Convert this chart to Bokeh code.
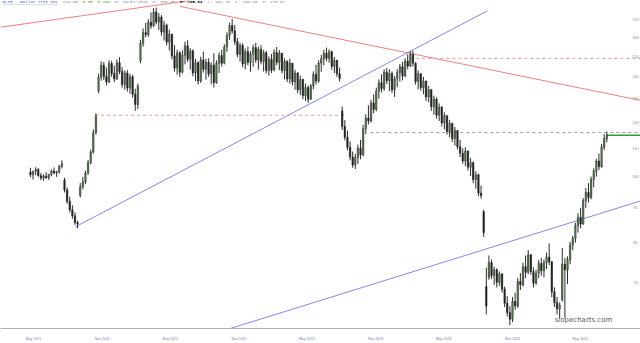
import pandas as pd
from bokeh.plotting import figure
from bokeh.models import Range1d, Label, FixedTicker, ColumnDataSource
from bokeh.embed import file_html
from bokeh.resources import INLINE

# ---------------- data (weekly candles) ----------------
first_week = "2021-04-23"

open_ = [101.5, 100.6, 101.8, 102.4, 100.3, 99.5, 100.2, 99.6, 100.7, 101.9,
         101.2, 101.6, 103.5, 98.8, 95.6, 92.0, 89.4, 87.6, 85.6, 93.8,
         96.6, 98.2, 101.2, 104.9, 108.6, 116.0, 133.5, 139.8, 145.6, 140.2,
         137.6, 146.4, 141.6, 139.0, 146.8, 142.5, 136.4, 141.8, 134.8, 140.0,
         132.0, 127.5, 148.0, 156.8, 162.5, 161.5, 168.4, 166.2, 174.2, 168.5,
         171.2, 162.8, 166.6, 157.4, 161.6, 150.2, 144.2, 151.8, 142.2, 150.6,
         155.4, 148.6, 152.8, 141.8, 146.8, 138.0, 148.2, 143.6, 147.0, 141.4,
         145.6, 137.2, 146.5, 150.4, 146.6, 154.8, 161.0, 166.4, 163.4, 157.6,
         151.0, 155.6, 146.2, 152.4, 147.0, 151.2, 154.5, 148.2, 153.6, 147.4,
         151.8, 143.0, 148.6, 143.2, 152.0, 147.0, 151.6, 143.0, 147.4, 139.0,
         146.6, 137.6, 141.8, 134.0, 138.8, 131.4, 135.0, 129.8, 135.8, 141.2,
         138.0, 146.6, 148.8, 151.6, 149.0, 152.4, 145.0, 148.0, 141.4, 124.8,
         118.4, 114.2, 110.4, 106.8, 104.0, 106.6, 110.0, 107.6, 117.6, 121.8,
         120.6, 128.2, 125.4, 133.4, 137.2, 134.6, 142.2, 138.2, 141.6, 134.0,
         139.0, 142.0, 144.8, 140.4, 147.6, 145.2, 151.0, 146.6, 137.8, 141.4,
         135.0, 138.0, 130.8, 134.0, 126.6, 129.8, 123.0, 126.4, 119.8, 122.8,
         116.4, 119.6, 113.6, 116.8, 110.6, 108.2, 105.4, 109.0, 103.2, 104.8,
         99.0, 100.6, 94.6, 88.8, 69.0, 71.2, 74.8, 71.6, 73.0, 70.0,
         72.0, 68.4, 65.2, 63.2, 61.8, 65.6, 64.6, 70.2, 69.4, 73.8,
         72.4, 76.8, 72.6, 69.8, 72.2, 74.6, 72.8, 74.8, 76.2, 75.0,
         67.8, 65.4, 64.0, 66.0, 74.4, 73.0, 75.6, 79.4, 81.2, 84.8,
         87.2, 85.2, 92.2, 94.8, 93.2, 99.0, 101.8, 105.4, 103.4, 110.4,
         113.6]

high = [103.0, 102.0, 103.2, 102.9, 101.2, 100.8, 101.5, 100.9, 102.4, 103.1,
        102.0, 104.0, 105.6, 99.6, 96.4, 93.4, 90.8, 88.6, 86.2, 97.8,
        99.8, 102.0, 105.8, 109.5, 117.2, 123.8, 141.5, 147.5, 147.2, 144.5,
        148.0, 147.8, 145.2, 148.5, 149.6, 144.6, 143.0, 143.2, 141.5, 141.0,
        134.5, 136.8, 158.6, 164.8, 168.0, 170.0, 174.0, 176.5, 176.8, 173.6,
        172.4, 169.0, 167.5, 164.2, 162.0, 155.8, 153.4, 152.6, 153.0, 157.6,
        158.4, 154.2, 153.6, 148.8, 147.6, 149.8, 152.4, 148.8, 149.0, 147.0,
        151.5, 148.0, 152.0, 153.4, 156.2, 162.6, 168.0, 170.2, 166.8, 159.6,
        157.0, 156.8, 154.0, 155.0, 152.6, 156.0, 157.0, 155.0, 155.8, 153.2,
        152.8, 150.0, 151.2, 153.6, 154.8, 153.2, 151.8, 149.0, 148.0, 148.8,
        146.8, 143.4, 142.2, 140.6, 139.0, 136.8, 136.0, 136.6, 142.6, 145.8,
        148.0, 150.8, 153.4, 154.5, 153.6, 152.9, 149.6, 148.4, 144.4, 126.6,
        121.0, 116.8, 112.6, 108.8, 108.0, 111.4, 113.2, 119.0, 123.4, 127.2,
        129.6, 132.0, 135.0, 138.8, 141.2, 143.6, 144.2, 143.6, 142.6, 140.4,
        143.6, 146.2, 147.2, 149.0, 151.0, 152.6, 152.8, 147.0, 143.0, 141.8,
        140.0, 138.2, 135.8, 134.4, 131.4, 130.6, 128.0, 126.8, 124.2, 123.0,
        121.0, 120.0, 118.2, 117.0, 113.2, 110.0, 110.4, 109.2, 106.4, 105.2,
        101.8, 101.0, 97.0, 89.4, 73.6, 76.6, 75.6, 73.8, 73.4, 72.6,
        72.2, 69.0, 66.8, 64.6, 66.6, 67.6, 71.0, 72.2, 74.8, 76.6,
        78.0, 77.0, 73.6, 73.0, 75.4, 76.0, 75.6, 77.4, 79.8, 75.2,
        68.8, 66.6, 65.4, 78.6, 76.0, 76.4, 80.2, 81.8, 85.6, 88.4,
        90.0, 93.0, 96.2, 97.8, 100.0, 102.8, 106.2, 108.0, 111.6, 115.4,
        116.4]

low = [99.8, 99.0, 100.5, 100.0, 98.8, 98.6, 99.2, 98.9, 100.1, 100.8,
       99.9, 101.0, 102.8, 94.8, 91.2, 88.6, 86.7, 85.0, 84.0, 93.2,
       95.8, 97.5, 100.6, 104.2, 108.0, 115.2, 132.4, 138.2, 138.5, 136.0,
       137.0, 140.0, 137.5, 138.5, 141.2, 135.0, 134.0, 133.2, 132.2, 130.5,
       124.8, 125.6, 146.5, 155.0, 160.0, 160.2, 164.6, 165.5, 167.0, 164.0,
       160.8, 158.2, 155.6, 153.0, 148.5, 142.5, 141.0, 140.0, 141.5, 146.0,
       147.2, 143.5, 140.2, 138.0, 136.4, 137.2, 142.0, 138.6, 140.0, 136.5,
       135.0, 136.8, 141.8, 145.0, 146.0, 152.4, 158.6, 162.0, 156.0, 149.5,
       147.4, 144.6, 143.6, 145.5, 142.4, 144.8, 146.8, 143.4, 146.0, 142.5,
       141.6, 140.6, 141.8, 142.6, 145.6, 143.2, 141.6, 138.8, 137.6, 136.8,
       136.0, 134.0, 132.5, 131.6, 129.8, 129.0, 128.2, 129.6, 134.2, 136.4,
       137.2, 142.4, 145.5, 147.6, 146.8, 143.4, 141.8, 140.0, 137.8, 117.0,
       113.0, 109.2, 105.6, 103.0, 102.6, 104.4, 106.0, 107.0, 115.4, 119.2,
       120.0, 123.8, 124.6, 130.0, 132.8, 133.6, 136.6, 133.4, 132.6, 130.8,
       135.2, 137.8, 138.4, 139.8, 143.6, 144.8, 145.0, 136.4, 134.2, 133.6,
       132.0, 129.0, 128.4, 124.8, 123.2, 121.6, 120.6, 118.4, 117.2, 115.2,
       114.2, 112.4, 111.0, 109.6, 106.8, 104.4, 103.6, 102.0, 100.2, 97.8,
       96.0, 93.6, 92.8, 81.6, 62.8, 70.6, 70.8, 69.4, 68.8, 69.2,
       67.6, 64.4, 62.4, 60.6, 61.2, 63.8, 64.2, 68.2, 69.0, 71.0,
       72.0, 71.8, 68.8, 69.4, 71.0, 71.6, 71.2, 73.2, 74.2, 66.6,
       64.4, 62.8, 62.0, 65.6, 62.0, 69.6, 74.4, 78.0, 80.0, 82.8,
       84.0, 85.0, 90.0, 91.6, 92.6, 96.4, 100.0, 102.2, 103.0, 109.4,
       112.2]

close = [100.6, 101.8, 102.4, 100.3, 99.5, 100.2, 99.6, 100.7, 101.9, 101.2,
         101.6, 103.5, 104.4, 95.6, 92.0, 89.4, 87.6, 85.6, 85.2, 96.6,
         98.2, 101.2, 104.9, 108.6, 116.0, 122.5, 139.8, 145.6, 140.2, 137.6,
         146.4, 141.6, 139.0, 146.8, 142.5, 136.4, 141.8, 134.8, 140.0, 132.0,
         127.5, 135.5, 156.8, 162.5, 161.5, 168.4, 166.2, 174.2, 168.5, 171.2,
         162.8, 166.6, 157.4, 161.6, 150.2, 144.2, 151.8, 142.2, 150.6, 155.4,
         148.6, 152.8, 141.8, 146.8, 138.0, 148.2, 143.6, 147.0, 141.4, 145.6,
         137.2, 146.5, 150.4, 146.6, 154.8, 161.0, 166.4, 163.4, 157.6, 151.0,
         155.6, 146.2, 152.4, 147.0, 151.2, 154.5, 148.2, 153.6, 147.4, 151.8,
         143.0, 148.6, 143.2, 152.0, 147.0, 151.6, 143.0, 147.4, 139.0, 146.6,
         137.6, 141.8, 134.0, 138.8, 131.4, 135.0, 129.8, 135.8, 141.2, 138.0,
         146.6, 148.8, 151.6, 149.0, 152.4, 145.0, 148.0, 141.4, 139.2, 118.4,
         114.2, 110.4, 106.8, 104.0, 106.6, 110.0, 107.6, 117.6, 121.8, 120.6,
         128.2, 125.4, 133.4, 137.2, 134.6, 142.2, 138.2, 141.6, 134.0, 139.0,
         142.0, 144.8, 140.4, 147.6, 145.2, 151.0, 146.6, 137.8, 141.4, 135.0,
         138.0, 130.8, 134.0, 126.6, 129.8, 123.0, 126.4, 119.8, 122.8, 116.4,
         119.6, 113.6, 116.8, 110.6, 108.2, 105.4, 109.0, 103.2, 104.8, 99.0,
         100.6, 94.6, 93.8, 82.8, 64.6, 74.8, 71.6, 73.0, 70.0, 72.0,
         68.4, 65.2, 63.2, 61.8, 65.6, 64.6, 70.2, 69.4, 73.8, 72.4,
         76.8, 72.6, 69.8, 72.2, 74.6, 72.8, 74.8, 76.2, 75.0, 67.8,
         65.4, 64.0, 64.8, 74.4, 73.0, 75.6, 79.4, 81.2, 84.8, 87.2,
         85.2, 92.2, 94.8, 93.2, 99.0, 101.8, 105.4, 103.4, 110.4, 113.6,
         114.96]

assert len(open_) == len(high) == len(low) == len(close), (len(open_), len(high), len(low), len(close))

# x axis ticks
tick_dates = ["2021-05-01", "2021-11-01", "2022-05-01", "2022-11-01", "2023-05-01",
              "2023-11-01", "2024-05-01", "2024-11-01", "2025-05-01"]
tick_labels = ["May 2021", "Nov 2021", "May 2022", "Nov 2022", "May 2023",
               "Nov 2023", "May 2024", "Nov 2024", "May 2025"]

# y axis ticks (right side, log scale)
price_ticks = [70, 80, 90, 100, 110, 120, 130, 140, 150, 160, 170]

# trend lines (drawn annotations): start / end dates and prices
trend_x0 = ["2021-02-02", "2022-05-28", "2021-08-21", "2022-10-09"]
trend_y0 = [165.5, 177.5, 84.4, 59.9]
trend_x1 = ["2022-06-24", "2025-10-09", "2024-08-26", "2025-10-09"]
trend_y1 = [181.1, 129.3, 174.9, 92.1]
trend_color = ["#e46c6c", "#e46c6c", "#7272e2", "#7272e2"]

# horizontal level lines
level_price = [123.0, 149.0, 116.0]
level_start = ["2021-10-13", "2024-02-02", "2023-10-18"]
level_end = ["2023-08-12", "2025-10-09", "2025-10-09"]
level_color = ["#e39a9a", "#e39a9a", "#9a9aae"]

header_parts = ["DLTR - Dollar Tree Inc", "114.96", "0.30", "0.26%", "D: 10/07/2025",
                "O: 109.45", "H: 105.62", "L: 102.76", "C: 104.49", "V: 276.87"]

# ---------------- figure ----------------
x_start = pd.Timestamp("2021-02-02")
x_end = pd.Timestamp("2025-10-09")
y_bottom, y_top = 59.9, 181.1

p = figure(width=640, height=343, x_axis_type="datetime", y_axis_type="log",
           x_range=Range1d(x_start, x_end), y_range=Range1d(y_bottom, y_top),
           output_backend="svg", toolbar_location=None, y_axis_location=None,
           min_border_left=0, min_border_right=0, min_border_top=0, min_border_bottom=11)
p.outline_line_color = None
p.grid.visible = False
p.background_fill_color = "white"

dates = pd.date_range(first_week, periods=len(close), freq="7D")
df = pd.DataFrame(dict(date=dates, open=open_, high=high, low=low, close=close))
df["top"] = df[["open", "close"]].max(axis=1)
df["bottom"] = df[["open", "close"]].min(axis=1)
up = ColumnDataSource(df[df.close >= df.open])
dn = ColumnDataSource(df[df.close < df.open])
all_src = ColumnDataSource(df)

# trend lines and levels (behind candles)
p.segment(x0=[pd.Timestamp(d) for d in trend_x0], y0=trend_y0,
          x1=[pd.Timestamp(d) for d in trend_x1], y1=trend_y1,
          line_color=trend_color, line_width=1, line_alpha=0.85)
p.segment(x0=[pd.Timestamp(d) for d in level_start], y0=level_price,
          x1=[pd.Timestamp(d) for d in level_end], y1=level_price,
          line_color=level_color, line_width=1, line_dash="3 3")
p.segment(x0=[dates[-1]], y0=[close[-1]], x1=[x_end], y1=[close[-1]],
          line_color="#2e9a3a", line_width=1.6)

bar_w = 4 * 24 * 3600 * 1000
p.segment(x0="date", y0="low", x1="date", y1="high", source=all_src,
          line_color="#2b2b2b", line_width=1)
p.vbar(x="date", width=bar_w, top="top", bottom="bottom", source=up,
       fill_color="#5f7f55", line_color="#2b332b", line_width=0.5)
p.vbar(x="date", width=bar_w, top="top", bottom="bottom", source=dn,
       fill_color="#232323", line_color="#232323", line_width=0.5)

# x axis
tick_ms = [pd.Timestamp(d).value // 10**6 for d in tick_dates]
p.xaxis.ticker = FixedTicker(ticks=tick_ms)
p.xaxis.major_label_overrides = {t: lab for t, lab in zip(tick_ms, tick_labels)}
p.xaxis.major_tick_line_color = None
p.xaxis.minor_tick_line_color = None
p.xaxis.axis_line_color = "#b0b0b0"
p.xaxis.major_label_text_font_size = "3.5px"
p.xaxis.major_label_text_color = "#6f7fb0"
p.xaxis.major_label_standoff = 2
p.xaxis.major_label_text_font = "Liberation Sans"

# right-side price labels inside plot
for v in price_ticks:
    p.add_layout(Label(x=635, y=v, x_units="screen", y_units="data", text=str(v),
                       text_font_size="4px", text_color="#8a8a8a", text_align="center",
                       text_baseline="middle", text_font="Liberation Sans"))

# header: monospace segments laid out left to right
char_w, gap = 2.52, 4.8
header_color = ["#3a4fc0", "#888888", "#3a9a3a", "#3a9a3a", "#888888", "#888888",
                "#111111", "#888888", "#888888", "#888888"]
hx = 2.0
for txt, hc in zip(header_parts, header_color):
    bold = txt.startswith("H:")
    p.add_layout(Label(x=hx, y=332 - 5, x_units="screen", y_units="screen", text=txt,
                       text_font_size="4.2px", text_color=hc, text_baseline="middle",
                       text_font="Liberation Mono",
                       text_font_style="bold" if bold else "normal"))
    hx += len(txt) * char_w + gap
# underline of the ticker link
p.add_layout(Label(x=2, y=332 - 6.2, x_units="screen", y_units="screen",
                   text="_" * len(header_parts[0]), text_font_size="4.2px",
                   text_color="#3a4fc0", text_baseline="middle", text_font="Liberation Mono"))

# watermark
p.add_layout(Label(x=583, y=332 - 323, x_units="screen", y_units="screen",
                   text="slopecharts.com", text_font_size="7px", text_color="#5a5a5a",
                   text_align="center", text_baseline="middle", text_font="DejaVu Sans"))

open("out.html", "w").write(file_html(p, INLINE))
